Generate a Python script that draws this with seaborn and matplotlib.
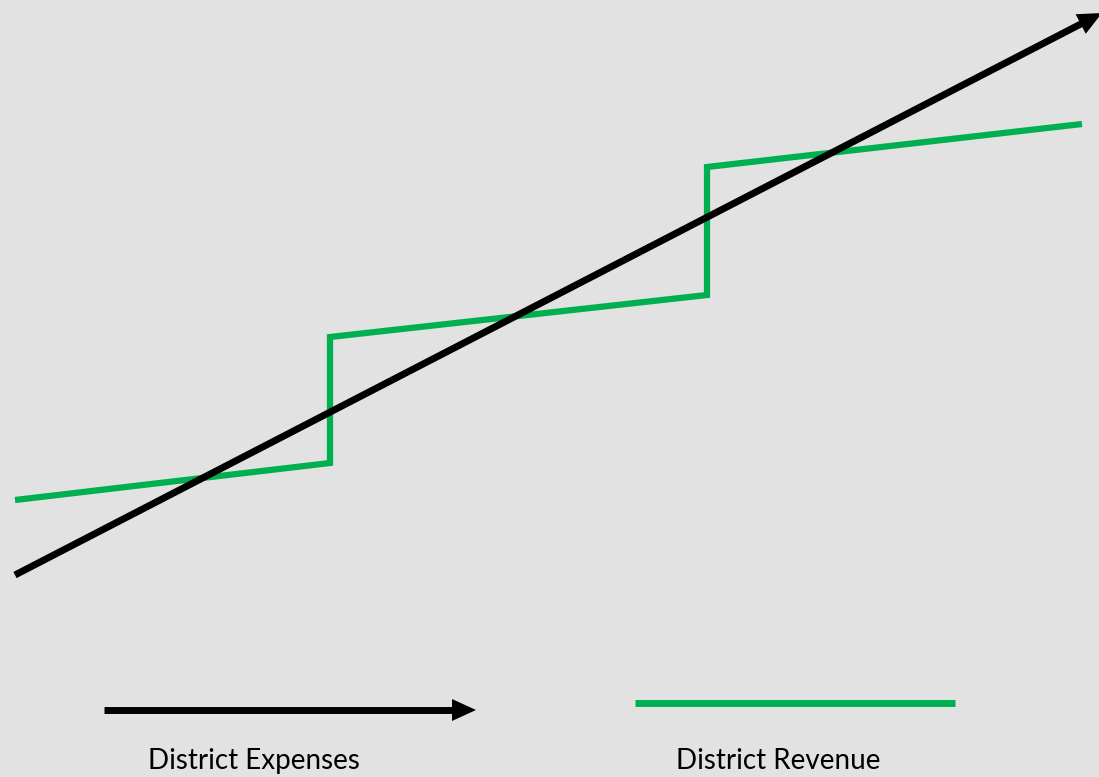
import numpy as np
import pandas as pd
import matplotlib
matplotlib.use("Agg")
import matplotlib.pyplot as plt
from matplotlib.patches import Polygon
import seaborn as sns

# values (x across, y up, in figure-pixel units)
expense_x = [15, 1102]
expense_y = [202, 764]

revenue_x = [15, 330, 330, 707, 707, 1082]
revenue_y = [277, 314, 440, 482, 610, 653]

legend_labels = ["District Expenses", "District Revenue"]

BG = "#e2e2e2"
GREEN = "#00b050"


def arrow_head(ax, x0, y0, x1, y1, length=24, width=22, color="black"):
    """ filled triangle head at (x1, y1); returns base point for the shaft """
    d = np.array([x1 - x0, y1 - y0], dtype=float)
    d /= np.hypot(*d)
    n = np.array([-d[1], d[0]])
    tip = np.array([x1, y1], dtype=float)
    base = tip - d * length
    pts = [tip, base + n * width / 2, base - n * width / 2]
    ax.add_patch(Polygon(pts, closed=True, color=color, lw=0, zorder=5))
    return base


def plot_chart():
    sns.set_style("white")
    plt.rcParams["font.family"] = ["Lato", "DejaVu Sans"]

    fig = plt.figure(figsize=(10.99, 7.77), dpi=100, facecolor=BG)
    ax = fig.add_axes([0, 0, 1, 1])
    ax.set_facecolor(BG)

    rev_df = pd.DataFrame({"x": revenue_x, "y": revenue_y})

    # revenue step line (keep point order, no aggregation)
    sns.lineplot(data=rev_df, x="x", y="y", sort=False, estimator=None,
                 color=GREEN, lw=4.5, ax=ax, solid_joinstyle="miter",
                 solid_capstyle="butt")

    # expenses line with arrow head
    base = arrow_head(ax, expense_x[0], expense_y[0], expense_x[1], expense_y[1])
    exp_df = pd.DataFrame({"x": [expense_x[0], base[0] + 2], "y": [expense_y[0], base[1] + 1]})
    sns.lineplot(data=exp_df, x="x", y="y", sort=False, estimator=None,
                 color="black", lw=5, ax=ax, solid_capstyle="butt")

    # legend-like keys at the bottom
    kb = arrow_head(ax, 104, 67, 476, 67, length=24, width=22)
    ax.plot([104, kb[0] + 1], [67, 67], color="black", lw=5, solid_capstyle="butt")
    ax.plot([635, 955], [74, 74], color=GREEN, lw=5, solid_capstyle="butt")
    ax.text(254, 16, legend_labels[0], ha="center", va="center", fontsize=20, color="black")
    ax.text(778, 16, legend_labels[1], ha="center", va="center", fontsize=20, color="black")

    ax.set_xlim(0, 1099)
    ax.set_ylim(0, 777)
    ax.set_xlabel("")
    ax.set_ylabel("")
    ax.axis("off")

    fig.savefig("out.png", dpi=100, facecolor=BG)


if __name__ == "__main__":
    plot_chart()
